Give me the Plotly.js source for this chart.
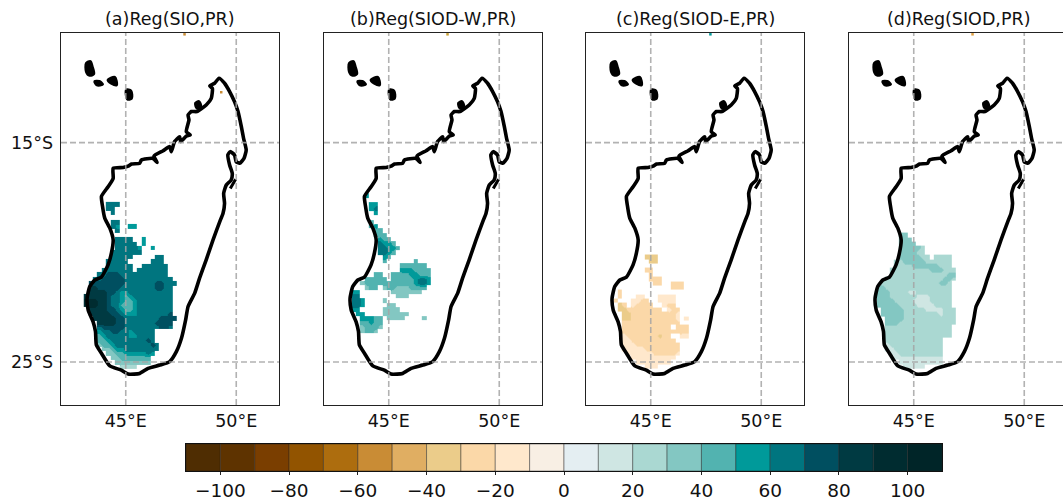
<!DOCTYPE html>
<html><head><meta charset="utf-8">
<script src="https://cdn.plot.ly/plotly-3.0.1.min.js"></script>
<style>html,body{margin:0;padding:0;background:#fff;overflow:hidden}</style></head>
<body><div id="chart" style="width:1063px;height:502px"></div>
<script>
const panelTitles = ["(a)Reg(SIO,PR)","(b)Reg(SIOD-W,PR)","(c)Reg(SIOD-E,PR)","(d)Reg(SIOD,PR)"];
const lonTicks = [45,50], lonLabels = ["45°E","50°E"];
const latTicks = [-15,-25], latLabels = ["15°S","25°S"];
const cbTicks = [-100,-80,-60,-40,-20,0,20,40,60,80,100];
const cbLabels = ["−100","−80","−60","−40","−20","0","20","40","60","80","100"];
const levelColors = ["#4f2d02","#5e3300","#7a3e00","#925400","#ad6d0e","#c98c35","#e0ae62","#ebcc8a","#fbd8a8","#ffe8cc","#f8efe4","#e4eef2","#cfe6e3","#aad8d2","#83c7c2","#52b3b0","#009a9a","#00757f","#004f60","#003a42","#002c30","#002528"];
const levelMids = [-105,-95,-85,-75,-65,-55,-45,-35,-25,-15,-5,5,15,25,35,45,55,65,75,85,95,105];

const coastLon = [49.22,49.47,49.70,49.92,50.08,50.23,50.33,50.45,50.35,50.15,50.00,49.92,49.73,49.62,49.70,49.82,49.77,49.55,49.43,49.47,49.40,49.28,48.95,48.64,48.34,48.12,47.82,47.71,47.52,47.29,46.99,46.54,46.01,45.63,45.11,44.80,44.28,43.90,43.67,43.63,43.52,43.30,43.25,43.37,43.60,43.90,44.20,44.35,44.43,44.28,44.05,43.95,43.90,44.20,44.43,44.43,44.88,45.11,45.26,45.63,45.71,46.23,46.42,46.28,46.69,46.99,47.06,47.21,47.44,47.48,47.74,47.92,47.74,47.86,47.82,47.97,48.22,48.64,48.87,48.92,48.80,49.02,49.22];
const coastLat = [-12.06,-12.29,-12.67,-13.13,-13.58,-14.27,-14.80,-15.33,-15.72,-15.94,-15.87,-15.56,-15.41,-15.56,-16.02,-16.40,-16.70,-16.93,-17.31,-17.77,-18.23,-18.53,-19.43,-20.34,-21.18,-21.86,-22.47,-23.08,-23.92,-24.53,-24.98,-25.14,-25.29,-25.52,-25.55,-25.37,-25.18,-24.60,-24.22,-23.61,-23.16,-22.63,-22.09,-21.56,-21.26,-21.13,-20.57,-20.04,-19.43,-18.90,-18.44,-17.91,-17.45,-17.01,-16.63,-16.17,-16.13,-16.07,-15.97,-15.94,-15.79,-15.72,-15.90,-15.61,-15.37,-15.18,-15.41,-14.95,-14.73,-14.95,-14.70,-14.65,-14.50,-13.96,-13.74,-13.58,-13.58,-13.28,-12.98,-12.52,-12.41,-12.29,-12.06];
const isleLon = [43.22,43.40,43.48,43.55,43.37,43.22,43.22,null,43.60,43.80,43.95,43.70,43.60,null,44.20,44.50,44.58,44.35,44.20,null,45.03,45.23,45.26,45.08,45.03,null,48.16,48.31,48.39,48.22,48.16,null,49.73,49.97,49.73];
const isleLat = [-11.38,-11.30,-11.53,-11.86,-11.93,-11.76,-11.38,null,-12.21,-12.21,-12.34,-12.37,-12.21,null,-12.14,-12.02,-12.37,-12.29,-12.14,null,-12.60,-12.64,-12.98,-13.01,-12.60,null,-13.20,-13.13,-13.33,-13.43,-13.20,null,-17.09,-16.67,-17.09];

const gridLon0 = 43.2, gridStep = 0.2;
// one character per cell: '.' = no value, digit d = |value| in the band 10d..10d+10
const fieldA_top = -17.8, fieldA_sign = 1;
const fieldA = [
".....666.............",".....66..............","......6..............",".....................",
"......66.............","......65..55.........",".......6.............",".....................",
".......6666..5.......",".......66666.5.......",".......666665..5.....","......6666666........",
"......66666.....66...",".....66666.....666...",".....666666..666666..","....6666666.6666666..",
"...6677766666666666..","..667777766666666666.",".77777777666666677666",".8877777666666667766.",
".8888776556666666666.","88888766545666666666.","99988766544566666666.","99988766444566666666.",
".8888776544566666666.",".8888877655566666667.","..8888877666666667777","...88887766666667777.",
"...67777766666666776.","...5667766566666.....","...4566666556666.....","...4456666666676.....",
"...34456666666676....","....3345566666666....",".....33445555565.....","......334444444......",
".......33333333......","........2222........."];
const fieldB_top = -17.4, fieldB_sign = 1;
const fieldB = [
"....5................",".....................",".....55..............",".....56..............",
"......5..............",".....................",".....4...............",".....45..............",
"......44.............","......444............",".......544...........",".......6554..........",
".......66554.........",".......6654..........","........54...........","........4......4.....",
"............444444...","............5554444..","......44..444455444..","....44444.444445665..",
"...3444444444445665..","....344.3443334444...",".55.......3333333....",".66........333.......",
".665....3............",".665.....33..........",".55.....3333.........","..55....333333.......",
"...55544.3333....3...","...44544.............","...34443.............","...3443.............."];
const fieldC_top = -20.2, fieldC_sign = -1;
const fieldC = [
"........333..........",".........33..........",".....................","........22...........",
".........2...........",".........222.........","..........22..222....","..............222....",
"..2..................","..2...11...1111......",".2...1122..1111......","..32.12222..122......",
"..3322222222.122.....","...3322222222221.....","...3322222222221.1...","...2222222222222.....",
"...22222222222.222...","...222222222222222...","...12222222322..11...","...112222222222......",
"...1112222222222.....","...1111122222222.....","....111111222221.....",".....1111111111......",
"......11111111.......","........111.........."];
const fieldD_top = -19.2, fieldD_sign = 1;
const fieldD = [
"......33.............","......333............","......3333...........","......333332.........",
"......333322.........","......3333322.2222...",".....2233333222222...",".....2222333333222...",
"....222222222333222..","....222222222222233..","...2222222222222332..","..2222222222222332...",
".33222222222222222...",".33322221122222222...",".33322222211122222...",".33332222111122222...",
".33333222211112222...","..33333222221111222..","..33333222222221222..","...3333222222222222..",
"...3332222222222222..","...222222222222222...","...222222222222222...","...222222222222222...",
"...2222222222222.....","...1222222222222.....","...1122222222222.....","....112222222222.....",
".....11111111111.....","......1111111111.....",".......11111........."];

const speckLon = [[47.66,49.32],[47.66],[47.7],[47.66]];
const speckLat = [[-10.06,-12.7],[-10.06],[-10.06],[-10.06]];
const speckColor = ["#c98c35","#c9a035","#009a9a","#e0a040"];

const W=1063,H=502;
const panelPx = [[61,279],[324,542],[586,804],[849,1063]];
const pxPerDeg = 22.1, lon0 = 42.07;
const plotTop=33,plotBottom=405;

const fields=[[fieldA,fieldA_top,fieldA_sign],[fieldB,fieldB_top,fieldB_sign],[fieldC,fieldC_top,fieldC_sign],[fieldD,fieldD_top,fieldD_sign]];
let stops=[];
levelColors.forEach((c,i)=>{stops.push([i/22,c]);stops.push([(i+1)/22,c]);});

const data=[],shapes=[],annotations=[];
const layout={width:W,height:H,margin:{l:0,r:0,t:0,b:0},paper_bgcolor:"#fff",plot_bgcolor:"#fff",showlegend:false,shapes,annotations,font:{family:"DejaVu Sans",color:"#111"}};

fields.forEach(([rows,latTop,sign],p)=>{
  const s=p===0?"":String(p+1);
  const xa="x"+s, ya="y"+s;
  const z=rows.map(r=>r.split("").map(ch=>ch==="."?null:sign*(10*Number(ch)+5)));
  const ys=rows.map((r,i)=>latTop-gridStep*i);
  const xs=rows[0].split("").map((c,j)=>gridLon0+gridStep*j);
  data.push({type:"heatmap",x:xs,y:ys,z:z,xaxis:xa,yaxis:ya,colorscale:stops,zmin:-110,zmax:110,zsmooth:"best",showscale:false,hoverinfo:"skip"});
  data.push({type:"scatter",mode:"markers",x:speckLon[p],y:speckLat[p],xaxis:xa,yaxis:ya,marker:{symbol:"square",size:2.5,color:speckColor[p]},hoverinfo:"skip"});
  data.push({type:"scatter",mode:"lines",x:coastLon,y:coastLat,xaxis:xa,yaxis:ya,line:{color:"#000",width:3.6,shape:"spline",smoothing:0.5},hoverinfo:"skip"});
  data.push({type:"scatter",mode:"lines",x:isleLon,y:isleLat,xaxis:xa,yaxis:ya,fill:"toself",fillcolor:"#000",line:{color:"#000",width:3,shape:"spline",smoothing:0.8},hoverinfo:"skip"});
  const [l,r]=panelPx[p];
  const lonMax=lon0+(r-l)/pxPerDeg;
  layout["xaxis"+s]={domain:[l/W,r/W],range:[lon0,lonMax],anchor:ya,tickmode:"array",tickvals:lonTicks,ticktext:lonLabels,showgrid:false,zeroline:false,showline:true,mirror:true,linecolor:"#222",linewidth:1.4,ticks:"",tickfont:{size:17.5,family:"DejaVu Sans",color:"#111"}};
  layout["yaxis"+s]={domain:[1-plotBottom/H,1-plotTop/H],range:[-26.96,-10],anchor:xa,tickmode:"array",tickvals:latTicks,ticktext:p===0?latLabels:["",""],showgrid:false,zeroline:false,showline:true,mirror:true,linecolor:"#222",linewidth:1.4,ticks:"outside",ticklen:3,tickcolor:"rgba(0,0,0,0)",tickfont:{size:17.5,family:"DejaVu Sans",color:"#111"}};
  lonTicks.forEach(v=>shapes.push({type:"line",layer:"above",xref:xa,yref:ya+" domain",x0:v,x1:v,y0:0,y1:1,line:{color:"rgba(165,165,165,0.85)",width:1.6,dash:"6px,3px"}}));
  latTicks.forEach(v=>shapes.push({type:"line",layer:"above",xref:xa+" domain",yref:ya,x0:0,x1:1,y0:v,y1:v,line:{color:"rgba(165,165,165,0.85)",width:1.6,dash:"6px,3px"}}));
  annotations.push({xref:"paper",yref:"paper",x:(l+(p===3?l+218:r))/2/W,y:1-19/H,text:panelTitles[p],showarrow:false,xanchor:"center",yanchor:"middle",font:{size:17.5,family:"DejaVu Sans",color:"#111"}});
});

data.push({type:"bar",x:levelMids,y:levelMids.map(()=>1),width:levelMids.map(()=>10),marker:{color:levelColors,line:{color:"rgba(30,30,30,0.55)",width:0.8}},xaxis:"x5",yaxis:"y5",hoverinfo:"skip"});
layout.xaxis5={domain:[186/W,942/W],range:[-110,110],anchor:"y5",tickmode:"array",tickvals:cbTicks,ticktext:cbLabels,showgrid:false,zeroline:false,showline:true,mirror:true,linecolor:"#111",linewidth:1,ticks:"outside",ticklen:3,tickcolor:"#222",tickwidth:1,tickfont:{size:18.5,family:"DejaVu Sans",color:"#111"}};
layout.yaxis5={domain:[1-471/H,1-444/H],range:[0,1],anchor:"x5",showticklabels:false,showgrid:false,zeroline:false,ticks:"",showline:true,mirror:true,linecolor:"#111",linewidth:1};

Plotly.newPlot("chart",data,layout,{displayModeBar:false,staticPlot:true});
</script></body></html>
